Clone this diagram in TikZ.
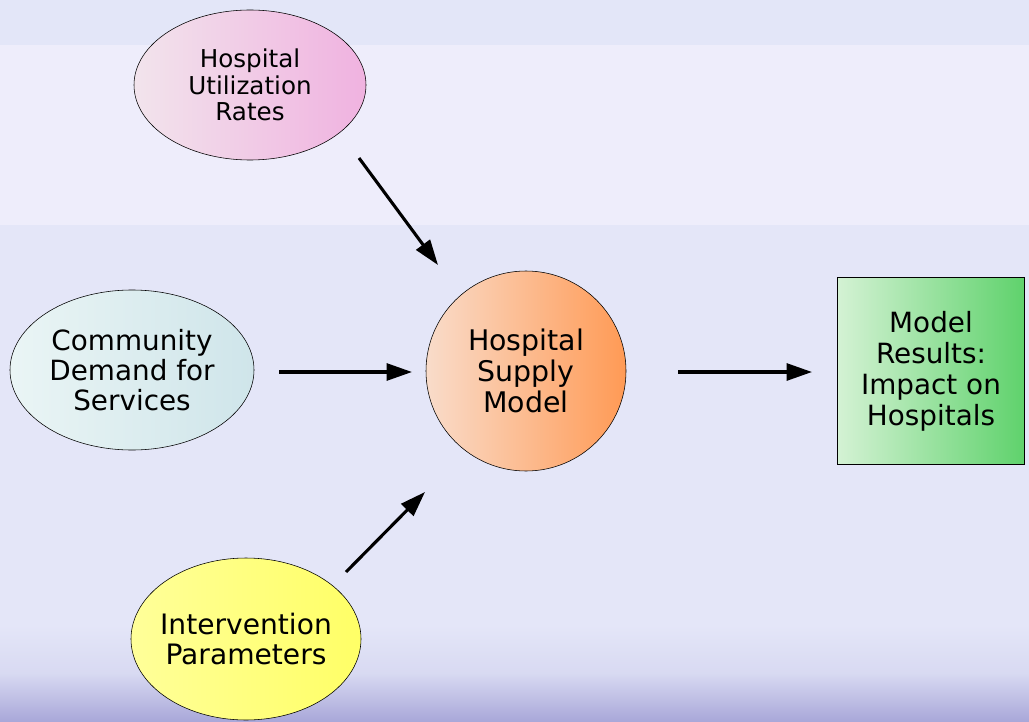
\documentclass[tikz,border=0pt]{standalone}
\usepackage{fontspec}
\setmainfont{DejaVu Sans}
\usetikzlibrary{arrows.meta,shapes.geometric}

\definecolor{bandA}{HTML}{E3E6F8}
\definecolor{bandB}{HTML}{EEEDFB}
\definecolor{bandC}{HTML}{E4E6F8}
\definecolor{bandD}{HTML}{A9A8D9}
\definecolor{pinkL}{HTML}{F2E4EC}
\definecolor{pinkR}{HTML}{F0B2E0}
\definecolor{cyanL}{HTML}{EAF5F5}
\definecolor{cyanR}{HTML}{CFE5EA}
\definecolor{orangeL}{HTML}{F9DCCA}
\definecolor{orangeR}{HTML}{FF9A55}
\definecolor{greenL}{HTML}{D4F2D4}
\definecolor{greenR}{HTML}{5FD26C}
\definecolor{yellowL}{HTML}{FFFF99}
\definecolor{yellowR}{HTML}{FFFF66}

\begin{document}
\begin{tikzpicture}[x=0.025cm,y=-0.025cm,
  blob/.style={ellipse,draw=black,thin,inner sep=0pt,inner xsep=-12pt,align=center},
  flow/.style={-{Triangle[length=18pt,width=12pt]},line width=2.2pt}]
% background bands
\useasboundingbox (0,0) rectangle (1029,721);
\fill[bandA] (0,0) rectangle (1029,45);
\fill[bandB] (0,45) rectangle (1029,225);
\fill[bandC] (0,225) rectangle (1029,721);
\shade[top color=bandC,bottom color=bandD,middle color=bandC!80!bandD] (0,625) rectangle (1029,721);

% inputs and model
\node[blob,minimum width=232*0.025cm,minimum height=150*0.025cm,
  left color=pinkL,right color=pinkR,font=\fontsize{17.5}{19}\selectfont]
  (util) at (250,85) {Hospital\\Utilization\\Rates};
\node[blob,minimum width=244*0.025cm,minimum height=160*0.025cm,
  left color=cyanL,right color=cyanR,font=\fontsize{19.8}{21.5}\selectfont]
  (demand) at (132,370) {Community\\Demand for\\Services};
\node[blob,minimum width=230*0.025cm,minimum height=162*0.025cm,
  left color=yellowL,right color=yellowR,font=\fontsize{20}{22}\selectfont]
  (interv) at (246,639) {Intervention\\Parameters};
\node[circle,draw=black,thin,inner sep=0pt,align=center,minimum size=200*0.025cm,
  left color=orangeL,right color=orangeR,font=\fontsize{20.2}{22}\selectfont]
  (supply) at (526,371) {Hospital\\Supply\\Model};
\node[rectangle,draw=black,thin,align=center,minimum width=187*0.025cm,minimum height=187*0.025cm,
  left color=greenL,right color=greenR,font=\fontsize{19.8}{22}\selectfont]
  (results) at (931,371) {Model\\Results:\\Impact on\\Hospitals};

% arrow ends
\coordinate (utilOut) at (359,158);
\coordinate (utilIn) at (438,265);
\coordinate (demOut) at (279,372);
\coordinate (demIn) at (412,372);
\coordinate (intOut) at (346,572);
\coordinate (intIn) at (425,492);
\coordinate (supOut) at (678,372);
\coordinate (resIn) at (812,372);

\draw[flow] (utilOut) -- (utilIn);
\draw[flow] (demOut) -- (demIn);
\draw[flow] (intOut) -- (intIn);
\draw[flow] (supOut) -- (resIn);
\end{tikzpicture}
\end{document}
